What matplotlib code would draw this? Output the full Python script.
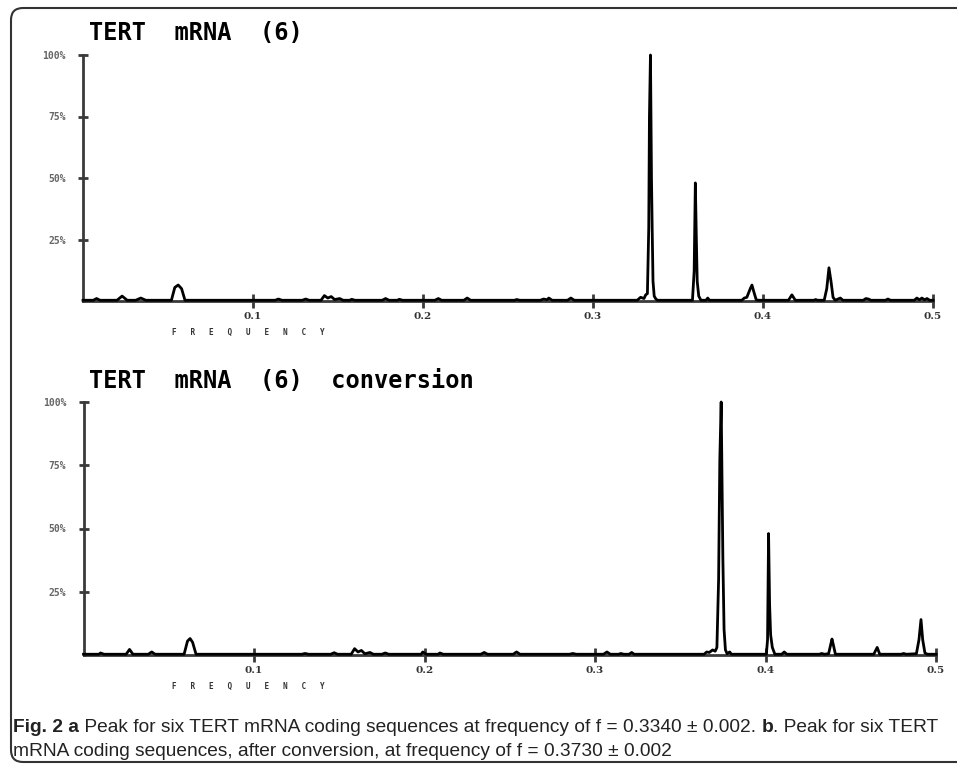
import matplotlib
matplotlib.use("Agg")
import matplotlib.pyplot as plt
from matplotlib.patches import FancyBboxPatch
from matplotlib.text import Annotation
from matplotlib.transforms import IdentityTransform

# Спектр а: частота / амплітуда (%)
top_freq = [0.000, 0.006, 0.008, 0.010, 0.020, 0.023, 0.026, 0.031, 0.034, 0.037,
            0.052, 0.054, 0.056, 0.058, 0.060, 0.113, 0.115, 0.117, 0.129, 0.131,
            0.133, 0.140, 0.142, 0.144, 0.146, 0.148, 0.151, 0.153, 0.157, 0.158,
            0.160, 0.176, 0.178, 0.180, 0.185, 0.186, 0.188, 0.207, 0.209, 0.211,
            0.224, 0.226, 0.228, 0.254, 0.255, 0.257, 0.269, 0.271, 0.273, 0.274,
            0.276, 0.285, 0.287, 0.289, 0.326, 0.328, 0.330, 0.331, 0.332, 0.3328,
            0.3332, 0.3338, 0.3344, 0.3348, 0.3353, 0.336, 0.337, 0.338, 0.3585, 0.3595,
            0.3602, 0.3608, 0.3613, 0.3622, 0.3635, 0.3665, 0.3675, 0.3685, 0.3875, 0.389,
            0.3905, 0.3925, 0.3935, 0.3945, 0.396, 0.3975, 0.415, 0.417, 0.419, 0.430,
            0.431, 0.432, 0.436, 0.4375, 0.4388, 0.440, 0.4412, 0.4425, 0.4455, 0.447,
            0.459, 0.4605, 0.462, 0.4635, 0.472, 0.4735, 0.475, 0.489, 0.4905, 0.492,
            0.4935, 0.495, 0.4965, 0.498, 0.500]
top_amp = [0.3, 0.3, 1.0, 0.3, 0.3, 2.0, 0.3, 0.3, 1.2, 0.3,
           0.3, 5.5, 6.5, 5.0, 0.3, 0.3, 0.8, 0.3, 0.3, 0.8,
           0.3, 0.3, 2.2, 1.2, 1.8, 0.6, 1.0, 0.3, 0.3, 0.7,
           0.3, 0.3, 1.0, 0.3, 0.3, 0.7, 0.3, 0.3, 1.0, 0.3,
           0.3, 1.2, 0.3, 0.3, 0.6, 0.3, 0.3, 0.8, 0.5, 1.2,
           0.3, 0.3, 1.2, 0.3, 0.3, 1.5, 1.0, 2.5, 3.0, 30,
           75, 100, 50, 30, 8, 2, 0.8, 0.3, 0.3, 12,
           48, 25, 8, 2, 0.3, 0.3, 1.2, 0.3, 0.3, 1.2,
           1.5, 5.0, 6.5, 4.0, 0.5, 0.3, 0.3, 2.5, 0.3, 0.3,
           0.6, 0.3, 0.3, 5.0, 13.5, 8.0, 1.5, 0.3, 1.2, 0.3,
           0.3, 1.0, 0.8, 0.3, 0.3, 0.8, 0.3, 0.3, 1.2, 0.5,
           1.2, 0.5, 1.0, 0.3, 0.3]

# Спектр b (після конверсії)
bot_freq = [0.000, 0.009, 0.010, 0.012, 0.025, 0.027, 0.029, 0.038, 0.040, 0.042,
            0.059, 0.061, 0.0625, 0.064, 0.066, 0.128, 0.130, 0.132, 0.145, 0.147,
            0.149, 0.157, 0.159, 0.161, 0.163, 0.165, 0.168, 0.170, 0.175, 0.177,
            0.179, 0.198, 0.199, 0.201, 0.208, 0.209, 0.211, 0.233, 0.235, 0.237,
            0.252, 0.254, 0.256, 0.285, 0.287, 0.289, 0.305, 0.307, 0.309, 0.314,
            0.315, 0.317, 0.320, 0.3215, 0.323, 0.364, 0.3655, 0.367, 0.369, 0.3705,
            0.3715, 0.3725, 0.3732, 0.374, 0.3745, 0.375, 0.3757, 0.3765, 0.3775, 0.379,
            0.380, 0.4005, 0.4012, 0.4018, 0.4024, 0.403, 0.404, 0.4055, 0.4095, 0.411,
            0.4125, 0.4315, 0.433, 0.4345, 0.437, 0.4382, 0.439, 0.4398, 0.441, 0.4635,
            0.4655, 0.467, 0.4795, 0.481, 0.4825, 0.4885, 0.490, 0.4912, 0.4922, 0.4935,
            0.495, 0.500]
bot_amp = [0.3, 0.3, 0.8, 0.3, 0.3, 2.2, 0.3, 0.3, 1.2, 0.3,
           0.3, 5.5, 6.5, 5.0, 0.3, 0.3, 0.6, 0.3, 0.3, 0.9,
           0.3, 0.3, 2.5, 1.2, 1.8, 0.5, 1.0, 0.3, 0.3, 0.8,
           0.3, 0.3, 1.2, 0.3, 0.3, 0.8, 0.3, 0.3, 1.0, 0.3,
           0.3, 1.2, 0.3, 0.3, 0.6, 0.3, 0.3, 1.2, 0.3, 0.3,
           0.6, 0.3, 0.3, 1.0, 0.3, 0.3, 1.2, 1.0, 2.0, 1.5,
           3.0, 30, 77, 100, 69, 38, 10, 2.0, 0.5, 1.2,
           0.3, 0.3, 6.0, 48, 20, 8.0, 3.0, 0.3, 0.3, 1.2,
           0.3, 0.3, 0.6, 0.3, 0.5, 4.0, 6.3, 4.0, 0.3, 0.3,
           3.0, 0.3, 0.3, 0.6, 0.3, 0.5, 6.0, 14, 6.0, 0.8,
           0.3, 0.3]

x_ticks = [0.1, 0.2, 0.3, 0.4, 0.5]
x_labels = ["0.1", "0.2", "0.3", "0.4", "0.5"]
y_ticks = [25, 50, 75, 100]
y_labels = ["25%", "50%", "75%", "100%"]
titles = ["TERT  mRNA  (6)", "TERT  mRNA  (6)  conversion"]

W, H = 957, 767
fig = plt.figure(figsize=(W / 100, H / 100), dpi=100)
fig.patch.set_facecolor("white")

def px(x, y):
    # пікселі (від верхнього лівого кута) -> частки фігури
    return x / W, 1 - y / H

# положення осей у пікселях: ліво, право, верх(100%), низ(0)
boxes = [(83, 933, 55, 301), (83.5, 936, 402, 655)]
traces = [(top_freq, top_amp), (bot_freq, bot_amp)]
title_y = [33, 381]

axis_col = "#3a3a3a"
for (l, r, t, b), (fq, am), ttl, ty in zip(boxes, traces, titles, title_y):
    ax = fig.add_axes([l / W, 1 - b / H, (r - l) / W, (b - t) / H])
    ax.plot(fq, am, color="black", lw=2, clip_on=False, zorder=3)
    ax.set_xlim(0, 0.5)
    ax.set_ylim(0, 100)
    for s in ["top", "right"]:
        ax.spines[s].set_visible(False)
    for s in ["left", "bottom"]:
        ax.spines[s].set_color(axis_col)
        ax.spines[s].set_linewidth(2)
    ax.set_xticks(x_ticks)
    ax.set_xticklabels(x_labels, fontsize=7.5, fontweight="bold",
                       family="DejaVu Serif", color="#333333")
    ax.set_yticks(y_ticks)
    ax.set_yticklabels(y_labels, fontsize=7, fontweight="bold",
                       family="DejaVu Sans Mono", color="#666666")
    ax.tick_params(axis="x", direction="inout", length=10, width=2,
                   color=axis_col, pad=3)
    ax.tick_params(axis="y", direction="inout", length=7, width=2,
                   color=axis_col, pad=9)
    ax.patch.set_alpha(0)

    # заголовок панелі
    fx, fy = px(89, ty)
    fig.text(fx, fy, ttl, fontsize=17, fontweight="bold",
             family="DejaVu Sans Mono", va="center", ha="left")
    # підпис осі
    fx, fy = px(172, b + 31)
    fig.text(fx, fy, "F   R   E   Q   U   E   N   C   Y", fontsize=5.5,
             fontweight="bold", family="DejaVu Sans Mono", va="center",
             ha="left", color="#333333")

# рамка з заокругленими кутами
frame = FancyBboxPatch((11, 5), 1000, 754, boxstyle="round,pad=0,rounding_size=12",
                       transform=IdentityTransform(), fill=False,
                       edgecolor="#333333", lw=1.5)
fig.add_artist(frame)

# підпис рисунка (жирні частини окремими текстами)
cap_font = ["Liberation Sans", "DejaVu Sans"]
cap_size = 13.8
cap_col = "#222222"
fx, fy = px(13, 728)
t1 = fig.text(fx, fy, "Fig. 2 a", fontsize=cap_size, fontweight="bold",
              family=cap_font, va="center", ha="left", color=cap_col)
a2 = fig.add_artist(Annotation(
    " Peak for six TERT mRNA coding sequences at frequency of f = 0.3340 ± 0.002. ",
    xy=(1, 0), xycoords=t1, va="bottom", ha="left", fontsize=cap_size,
    family=cap_font, color=cap_col))
a3 = fig.add_artist(Annotation(
    "b", xy=(1, 0), xycoords=a2, va="bottom", ha="left", fontsize=cap_size,
    fontweight="bold", family=cap_font, color=cap_col))
fig.add_artist(Annotation(
    ". Peak for six TERT", xy=(1, 0), xycoords=a3, va="bottom", ha="left",
    fontsize=cap_size, family=cap_font, color=cap_col))
fx, fy = px(13, 752)
fig.text(fx, fy, "mRNA coding sequences, after conversion, at frequency of "
         "f = 0.3730 ± 0.002", fontsize=cap_size, family=cap_font,
         va="center", ha="left", color=cap_col)

fig.savefig("out.png", dpi=100)
